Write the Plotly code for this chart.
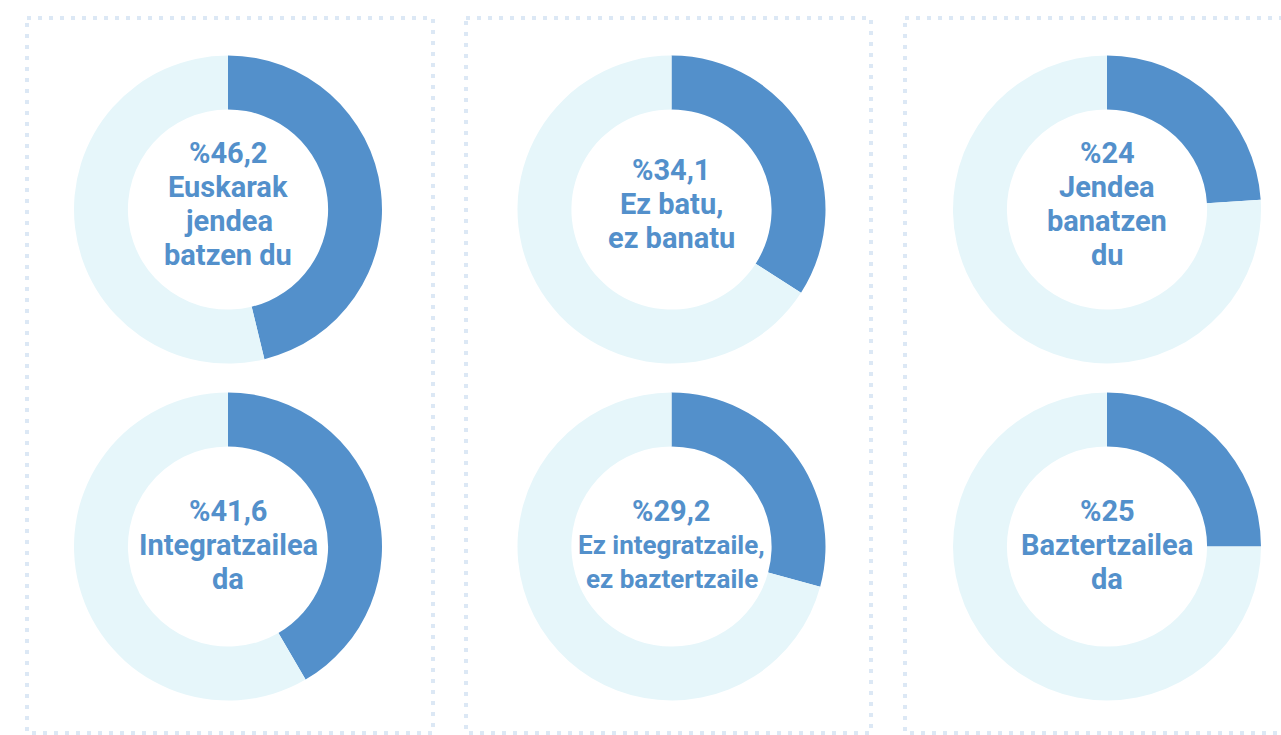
import plotly.graph_objects as go

# Share of answers per statement (percent), in reading order: top row, then bottom row
values = [46.2, 34.1, 24.0, 41.6, 29.2, 25.0]
statements = [
    ["Euskarak", "jendea", "batzen du"],
    ["Ez batu,", "ez banatu"],
    ["Jendea", "banatzen", "du"],
    ["Integratzailea", "da"],
    ["Ez integratzaile,", "ez baztertzaile"],
    ["Baztertzailea", "da"],
]
slice_names = ["Bai", "Gainerakoa"]

W, H = 1281, 735
DARK = "#5390CB"
LIGHT = "#E6F6FA"
DOT = "#DCE8F5"

col_cx = [228, 671.5, 1107]
row_cy = [209.5, 546.5]
row_text_shift = [4, 8]   # small downward nudge of the centre labels per row
R = 154
FONT_SIZE = 29
FONT_SIZE_LONG = 26       # used when a statement line is too long for the hole
LONG_LINE = 15
LINE_GAP = 34

fig = go.Figure()


def fmt(v):
    return "%" + (f"{v:g}").replace(".", ",")


for i, (v, words) in enumerate(zip(values, statements)):
    cx = col_cx[i % 3]
    cy = row_cy[i // 3]
    fig.add_trace(go.Pie(
        labels=slice_names,
        values=[v, 100 - v],
        hole=0.65,
        sort=False,
        direction="clockwise",
        rotation=0,
        marker=dict(colors=[DARK, LIGHT], line=dict(width=0)),
        textinfo="none",
        hoverinfo="skip",
        showlegend=False,
        domain=dict(x=[(cx - R) / W, (cx + R) / W],
                    y=[1 - (cy + R) / H, 1 - (cy - R) / H]),
    ))
    word_size = FONT_SIZE_LONG if max(len(w) for w in words) > LONG_LINE else FONT_SIZE
    lines = [fmt(v)] + words
    sizes = [FONT_SIZE] + [word_size] * len(words)
    n = len(lines)
    for k, (line, fs) in enumerate(zip(lines, sizes)):
        baseline = cy + row_text_shift[i // 3] + (k - (n - 1) / 2) * LINE_GAP
        fig.add_annotation(
            x=cx, y=baseline - 10, xref="x", yref="y",
            text=line,
            showarrow=False, xanchor="center", yanchor="middle", align="center",
            font=dict(family="Roboto", size=fs, color=DARK, weight="bold"),
        )

# Dotted panel frames
panels = [(27, 433), (466, 871), (905, 1300)]
for x0, x1 in panels:
    fig.add_shape(
        type="rect", xref="x", yref="y",
        x0=x0, x1=x1, y0=18, y1=733,
        line=dict(color=DOT, width=4, dash="4px,7px"),
        fillcolor="rgba(0,0,0,0)", layer="below",
    )

fig.update_layout(
    width=W, height=H,
    margin=dict(l=0, r=0, t=0, b=0),
    paper_bgcolor="white", plot_bgcolor="white",
    xaxis=dict(range=[0, W], visible=False, fixedrange=True),
    yaxis=dict(range=[H, 0], visible=False, fixedrange=True),
)

fig.write_html("out.html")
